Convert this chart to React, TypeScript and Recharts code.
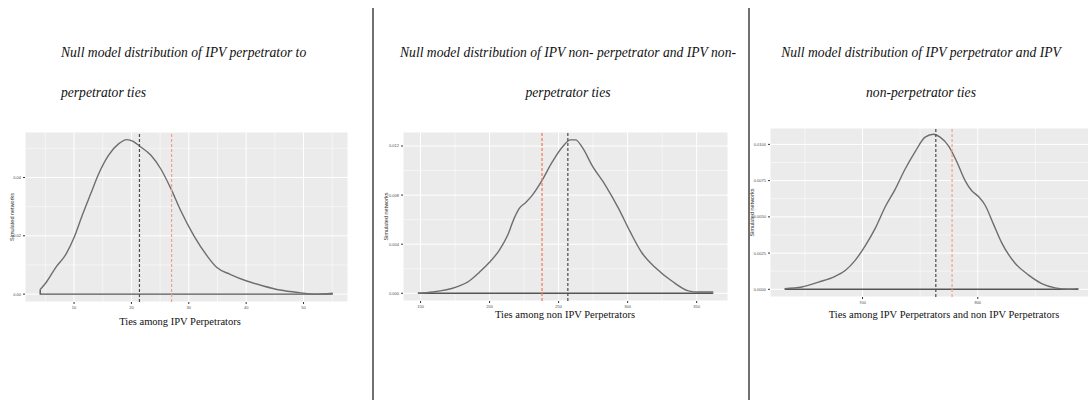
import { ComposedChart, Line, XAxis, YAxis, CartesianGrid, ReferenceLine } from "recharts";

// panel 1: ties among IPV perpetrators
const perpX = [4.1, 5.1, 6.8, 8.6, 10, 11.4, 12.9, 14.3, 16.0, 17.8, 19.2, 20.3, 21.4, 23.4, 25.1, 26.9, 28.6, 30.9, 33.2, 34.9, 37.2, 40.1, 43.0, 45.9, 49.3, 52.2, 55.1];
const perpY = [0.0016, 0.0039, 0.0091, 0.0137, 0.0194, 0.0269, 0.0344, 0.0413, 0.0476, 0.0516, 0.053, 0.0524, 0.0508, 0.0476, 0.043, 0.0361, 0.0286, 0.02, 0.0131, 0.0091, 0.0068, 0.0045, 0.0028, 0.0014, 0.0005, 0.0, 0.0003];
const perpBaseX = [4.1, 4.1, 55.1];
const perpBaseY = [0.0016, 0, 0];
const perpXTicks = [10, 20, 30, 40, 50];
const perpYTicks = [0, 0.02, 0.04];
const perpXMinor = [5, 15, 25, 35, 45, 55];
const perpYMinor = [0.01, 0.03, 0.05];

// panel 2: ties among non IPV perpetrators
const nonX = [148.1, 158.9, 175.7, 185.3, 192.5, 199.8, 207.0, 213.0, 217.8, 221.4, 226.2, 231.0, 238.0, 245.4, 252.6, 258.7, 262.3, 267.1, 274.3, 283.9, 293.5, 301.9, 310.3, 320.0, 332.0, 344.0, 351.2, 362.0];
const nonY = [0, 0.0001, 0.0005, 0.001, 0.0017, 0.0025, 0.0035, 0.0047, 0.0061, 0.0069, 0.0074, 0.008, 0.0092, 0.0107, 0.0119, 0.0125, 0.0125, 0.0119, 0.0104, 0.0088, 0.0069, 0.005, 0.0033, 0.0021, 0.001, 0.0002, 0.0001, 0.0001];
const nonBaseX = [148.1, 362.0];
const nonBaseY = [0, 0];
const nonXTicks = [150, 200, 250, 300, 350];
const nonYTicks = [0, 0.004, 0.008, 0.012];
const nonXMinor = [175, 225, 275, 325];
const nonYMinor = [0.002, 0.006, 0.01];

// panel 3: ties between perpetrators and non perpetrators
const mixX = [632.4, 647.4, 661.8, 676.3, 685.0, 693.6, 702.3, 711.0, 719.7, 728.3, 737.0, 745.7, 754.3, 761.6, 767.3, 774.6, 781.8, 789.0, 794.8, 800.6, 806.4, 813.6, 820.8, 832.4, 843.9, 855.5, 867.1, 878.6, 887.3];
const mixY = [0.00005, 0.00016, 0.0005, 0.0009, 0.0013, 0.002, 0.003, 0.0042, 0.0057, 0.0069, 0.0083, 0.0095, 0.0105, 0.0107, 0.0105, 0.0099, 0.0088, 0.0075, 0.0068, 0.0064, 0.0058, 0.0045, 0.0032, 0.0018, 0.001, 0.0004, 0.0001, 0, 0.00005];
const mixBaseX = [632.4, 887.3];
const mixBaseY = [0, 0];
const mixXTicks = [700, 800];
const mixYTicks = [0, 0.0025, 0.005, 0.0075, 0.01];
const mixXMinor = [650, 750, 850];
const mixYMinor = [0.00125, 0.00375, 0.00625, 0.00875];

const zip = (xs: number[], ys: number[]) => xs.map((x, i) => ({ x, y: ys[i] }));

interface PanelProps {
  left: number;
  top: number;
  width: number;
  plotHeight: number;
  yAxisWidth: number;
  xs: number[];
  ys: number[];
  baseX: number[];
  baseY: number[];
  xDomain: [number, number];
  yDomain: [number, number];
  xTicks: number[];
  yTicks: number[];
  xMinor: number[];
  yMinor: number[];
  digits: number;
  meanAt: number;
  observedAt: number;
  observedColor: string;
  labelDx: number;
}

function DensityPanel(p: PanelProps) {
  const tickStyle = { fontSize: 4, fill: "#4D4D4D", fontFamily: "Liberation Sans" };
  return (
    <div style={{ position: "absolute", left: p.left, top: p.top }}>
      <ComposedChart width={p.width} height={p.plotHeight + 14} data={zip(p.xs, p.ys)} margin={{ top: 0, right: 0, bottom: 0, left: 0 }}>
        <CartesianGrid fill="#EBEBEB" stroke="#FFFFFF" strokeWidth={1} />
        <XAxis
          type="number"
          dataKey="x"
          domain={p.xDomain}
          ticks={p.xTicks}
          allowDataOverflow
          height={14}
          axisLine={false}
          tickSize={2}
          tickLine={{ stroke: "#333" }}
          tick={tickStyle}
        />
        <YAxis
          type="number"
          domain={p.yDomain}
          ticks={p.yTicks}
          allowDataOverflow
          width={p.yAxisWidth}
          axisLine={false}
          tickSize={2}
          tickLine={{ stroke: "#333" }}
          tick={tickStyle}
          tickFormatter={(v: number) => v.toFixed(p.digits)}
          label={{ value: "Simulated networks", angle: -90, position: "center", dx: p.labelDx, style: { fontSize: 5.5, fill: "#333", fontFamily: "Liberation Sans" } }}
        />
        {p.xMinor.map((v) => (
          <ReferenceLine key={"mx" + v} x={v} stroke="#FFFFFF" strokeWidth={0.5} />
        ))}
        {p.yMinor.map((v) => (
          <ReferenceLine key={"my" + v} y={v} stroke="#FFFFFF" strokeWidth={0.5} />
        ))}
        <Line data={zip(p.baseX, p.baseY)} dataKey="y" type="linear" stroke="#555555" strokeWidth={1.4} dot={false} activeDot={false} isAnimationActive={false} />
        <Line dataKey="y" type="monotone" stroke="#6e6e6e" strokeWidth={1.4} dot={false} activeDot={false} isAnimationActive={false} />
        <ReferenceLine x={p.meanAt} stroke="#4a4a4a" strokeWidth={1.2} strokeDasharray="3 2" />
        <ReferenceLine x={p.observedAt} stroke={p.observedColor} strokeWidth={1.2} strokeDasharray="3 2" />
      </ComposedChart>
    </div>
  );
}

const titleStyle: React.CSSProperties = {
  position: "absolute",
  fontFamily: "Liberation Serif",
  fontStyle: "italic",
  fontSize: 13.6,
  color: "#111",
  whiteSpace: "nowrap",
  lineHeight: "16px",
};

const axisTitleStyle: React.CSSProperties = {
  position: "absolute",
  fontFamily: "Liberation Serif",
  fontSize: 10.5,
  color: "#111",
  whiteSpace: "nowrap",
  lineHeight: "12px",
  transform: "translateX(-50%)",
};

export default function App() {
  return (
    <div style={{ position: "relative", width: 1088, height: 400, overflow: "hidden", background: "#fff" }}>
      <style>{"body{margin:0}"}</style>

      <div style={{ ...titleStyle, left: 61, top: 45 }}>Null model distribution of IPV perpetrator to</div>
      <div style={{ ...titleStyle, left: 61, top: 85 }}>perpetrator ties</div>
      <div style={{ ...titleStyle, left: 568, top: 45, transform: "translateX(-50%)" }}>Null model distribution of IPV non- perpetrator and IPV non-</div>
      <div style={{ ...titleStyle, left: 568, top: 85, transform: "translateX(-50%)" }}>perpetrator ties</div>
      <div style={{ ...titleStyle, left: 921, top: 45, transform: "translateX(-50%)" }}>Null model distribution of IPV perpetrator and IPV</div>
      <div style={{ ...titleStyle, left: 921, top: 85, transform: "translateX(-50%)" }}>non-perpetrator ties</div>

      <div style={{ position: "absolute", left: 371.5, top: 8, width: 2, height: 392, background: "#707070" }} />
      <div style={{ position: "absolute", left: 747.5, top: 8, width: 2, height: 392, background: "#707070" }} />

      <DensityPanel
        left={0} top={132} width={348} plotHeight={170} yAxisWidth={25}
        xs={perpX} ys={perpY} baseX={perpBaseX} baseY={perpBaseY}
        xDomain={[1.45, 57.75]} yDomain={[-0.0027, 0.0556]}
        xTicks={perpXTicks} yTicks={perpYTicks} xMinor={perpXMinor} yMinor={perpYMinor}
        digits={2} meanAt={21.4} observedAt={27.0} observedColor="#F2A08A" labelDx={0}
      />
      <DensityPanel
        left={370} top={132} width={358} plotHeight={169} yAxisWidth={33}
        xs={nonX} ys={nonY} baseX={nonBaseX} baseY={nonBaseY}
        xDomain={[137.3, 372.7]} yDomain={[-0.00063, 0.01314]}
        xTicks={nonXTicks} yTicks={nonYTicks} xMinor={nonXMinor} yMinor={nonYMinor}
        digits={3} meanAt={256.7} observedAt={238.0} observedColor="#F07850" labelDx={0}
      />
      <DensityPanel
        left={740} top={128} width={353} plotHeight={169} yAxisWidth={30}
        xs={mixX} ys={mixY} baseX={mixBaseX} baseY={mixBaseY}
        xDomain={[619.7, 900]} yDomain={[-0.00053, 0.01113]}
        xTicks={mixXTicks} yTicks={mixYTicks} xMinor={mixXMinor} yMinor={mixYMinor}
        digits={4} meanAt={763.6} observedAt={777.7} observedColor="#F2A08A" labelDx={-3}
      />

      <div style={{ ...axisTitleStyle, left: 180, top: 316 }}>Ties among IPV Perpetrators</div>
      <div style={{ ...axisTitleStyle, left: 565, top: 309 }}>Ties among non IPV Perpetrators</div>
      <div style={{ ...axisTitleStyle, left: 944, top: 309 }}>Ties among IPV Perpetrators and non IPV Perpetrators</div>
    </div>
  );
}
